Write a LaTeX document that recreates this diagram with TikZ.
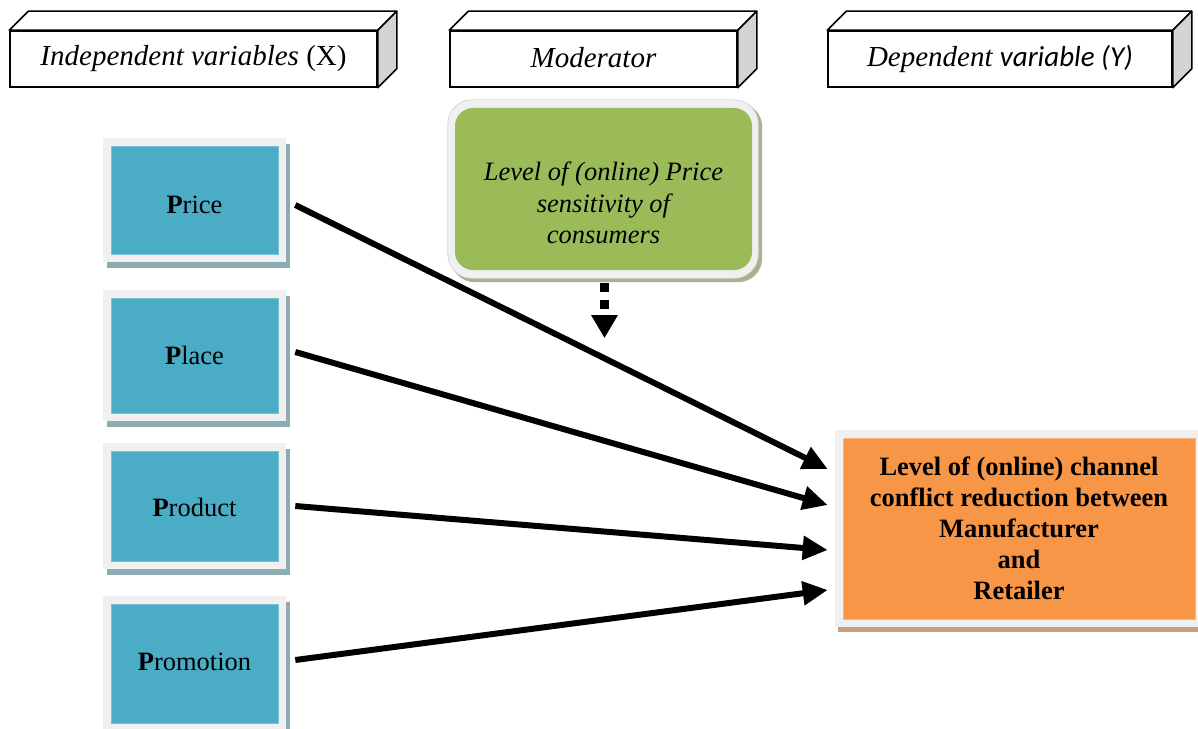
\documentclass[tikz,border=0pt]{standalone}
\usepackage{fontspec}
\setmainfont{Liberation Serif}
\newfontfamily\carlito{Carlito}
\usetikzlibrary{arrows.meta,calc,backgrounds}
\definecolor{boxblue}{HTML}{4BACC6}
\definecolor{framegray}{HTML}{F0F0F0}
\definecolor{shadowblue}{HTML}{8EAAB3}
\definecolor{greenfill}{HTML}{9BBB59}
\definecolor{greenshadow}{HTML}{A9B293}
\definecolor{orangefill}{HTML}{F79646}
\definecolor{orangeshadow}{HTML}{C9A07F}
\definecolor{sidegray}{HTML}{D4D4D4}
\newcommand\hdrdepth[1]{%
  \draw[line width=1.5bp, fill=white, line join=round] (#1.north west) -- ++(19,-19) -- ($(#1.north east)+(19,-19)$) -- (#1.north east) -- cycle;
  \draw[line width=1.5bp, fill=sidegray, line join=round] (#1.north east) -- ++(19,-19) -- ($(#1.south east)+(19,-19)$) -- (#1.south east) -- cycle;}
\newcommand\blueframe[1]{%
  \fill[shadowblue] ($(#1.north west)+(-4,-2)$) rectangle ($(#1.south east)+(12,14)$);
  \fill[framegray] ($(#1.north west)+(-8,-8)$) rectangle ($(#1.south east)+(8,8)$);}
\begin{document}
\begin{tikzpicture}[x=1bp,y=-1bp,
  hdr/.style={draw=black, line width=1.5bp, fill=white, minimum height=56bp, inner sep=0pt,
    font=\fontsize{29bp}{34bp}\selectfont},
  pbox/.style={fill=boxblue, draw=boxblue!75!white, line width=0.6bp, minimum width=167bp, inner sep=0pt,
    text height=18bp, text depth=0bp, font=\fontsize{26.5bp}{31bp}\selectfont},
  modbox/.style={fill=greenfill, rounded corners=18bp, minimum width=297bp, minimum height=162bp, inner sep=0pt},
  modtext/.style={align=center, inner sep=0pt, font=\fontsize{26.5bp}{31.5bp}\selectfont\itshape},
  outbox/.style={fill=orangefill, draw=orangefill!70!white, line width=0.6bp, minimum width=352bp, minimum height=181bp,
    inner sep=0pt, align=center, font=\fontsize{26.5bp}{31bp}\selectfont\bfseries},
  conn/.style={line width=6bp, -{Triangle[length=25bp,width=23bp]}},
  modconn/.style={line width=9bp, dash pattern=on 9bp off 8bp, -{Triangle[length=23bp,width=25bp]}}
]
\useasboundingbox (0,0) rectangle (1198,729);

% header boxes
\node[hdr, minimum width=367bp] (h1) at (193.5,59) {\raisebox{3bp}{\textit{Independent variables} (X)}};
\node[hdr, minimum width=287bp] (h2) at (593.5,59) {\raisebox{3bp}{\textit{Moderator}}};
\node[hdr, minimum width=344bp] (h3) at (1000,59) {\raisebox{3bp}{\textit{Dependent {\carlito variable (Y)}}}};
\hdrdepth{h1}
\hdrdepth{h2}
\hdrdepth{h3}

% independent variables
\node[pbox, minimum height=108bp] (price) at (194.5,200) {\raisebox{-4.5bp}{\textbf{P}rice}};
\node[pbox, minimum height=115bp] (place) at (194.5,355.5) {\textbf{P}lace};
\node[pbox, minimum height=110bp] (product) at (194.5,506) {\raisebox{-1.5bp}{\textbf{P}roduct}};
\node[pbox, minimum height=119bp] (promo) at (194.5,663.5) {\raisebox{2.5bp}{\textbf{P}romotion}};

% moderator
\node[modbox] (mod) at (603.5,189) {};
\node[modtext] (modlbl) at ($(mod.center)+(0,14)$) {Level of (online) Price\\sensitivity of\\consumers};

% dependent
\node[outbox] (outcome) at (1019,528.5) {Level of (online) channel\\conflict reduction between\\Manufacturer\\and\\Retailer};

\begin{scope}[on background layer]
  \blueframe{price}
  \blueframe{place}
  \blueframe{product}
  \blueframe{promo}
  \fill[greenshadow, rounded corners=24bp] ($(mod.north west)+(-4,-5)$) rectangle ($(mod.south east)+(10,12)$);
  \filldraw[fill=framegray, draw=black!15, line width=0.8bp, rounded corners=24bp] ($(mod.north west)+(-7,-8)$) rectangle ($(mod.south east)+(6,8)$);
  \fill[orangeshadow] ($(outcome.north west)+(-5,-3)$) rectangle (1198,632);
  \fill[framegray] ($(outcome.north west)+(-8,-8)$) rectangle (1198,627);
\end{scope}

% connectors
\draw[conn] ($(price.east)+(17,5)$) -- ($(outcome.west)+(-15,-59.5)$);
\draw[conn] ($(place.east)+(17,-3.5)$) -- ($(outcome.west)+(-15,-23.5)$);
\draw[conn] ($(product.east)+(17,0)$) -- ($(outcome.west)+(-15,21.5)$);
\draw[conn] ($(promo.east)+(17,-3.5)$) -- ($(outcome.west)+(-15,61.5)$);
\draw[modconn] ($(mod.south)+(1,13)$) -- ($(mod.south)+(1,68)$);
\end{tikzpicture}
\end{document}
